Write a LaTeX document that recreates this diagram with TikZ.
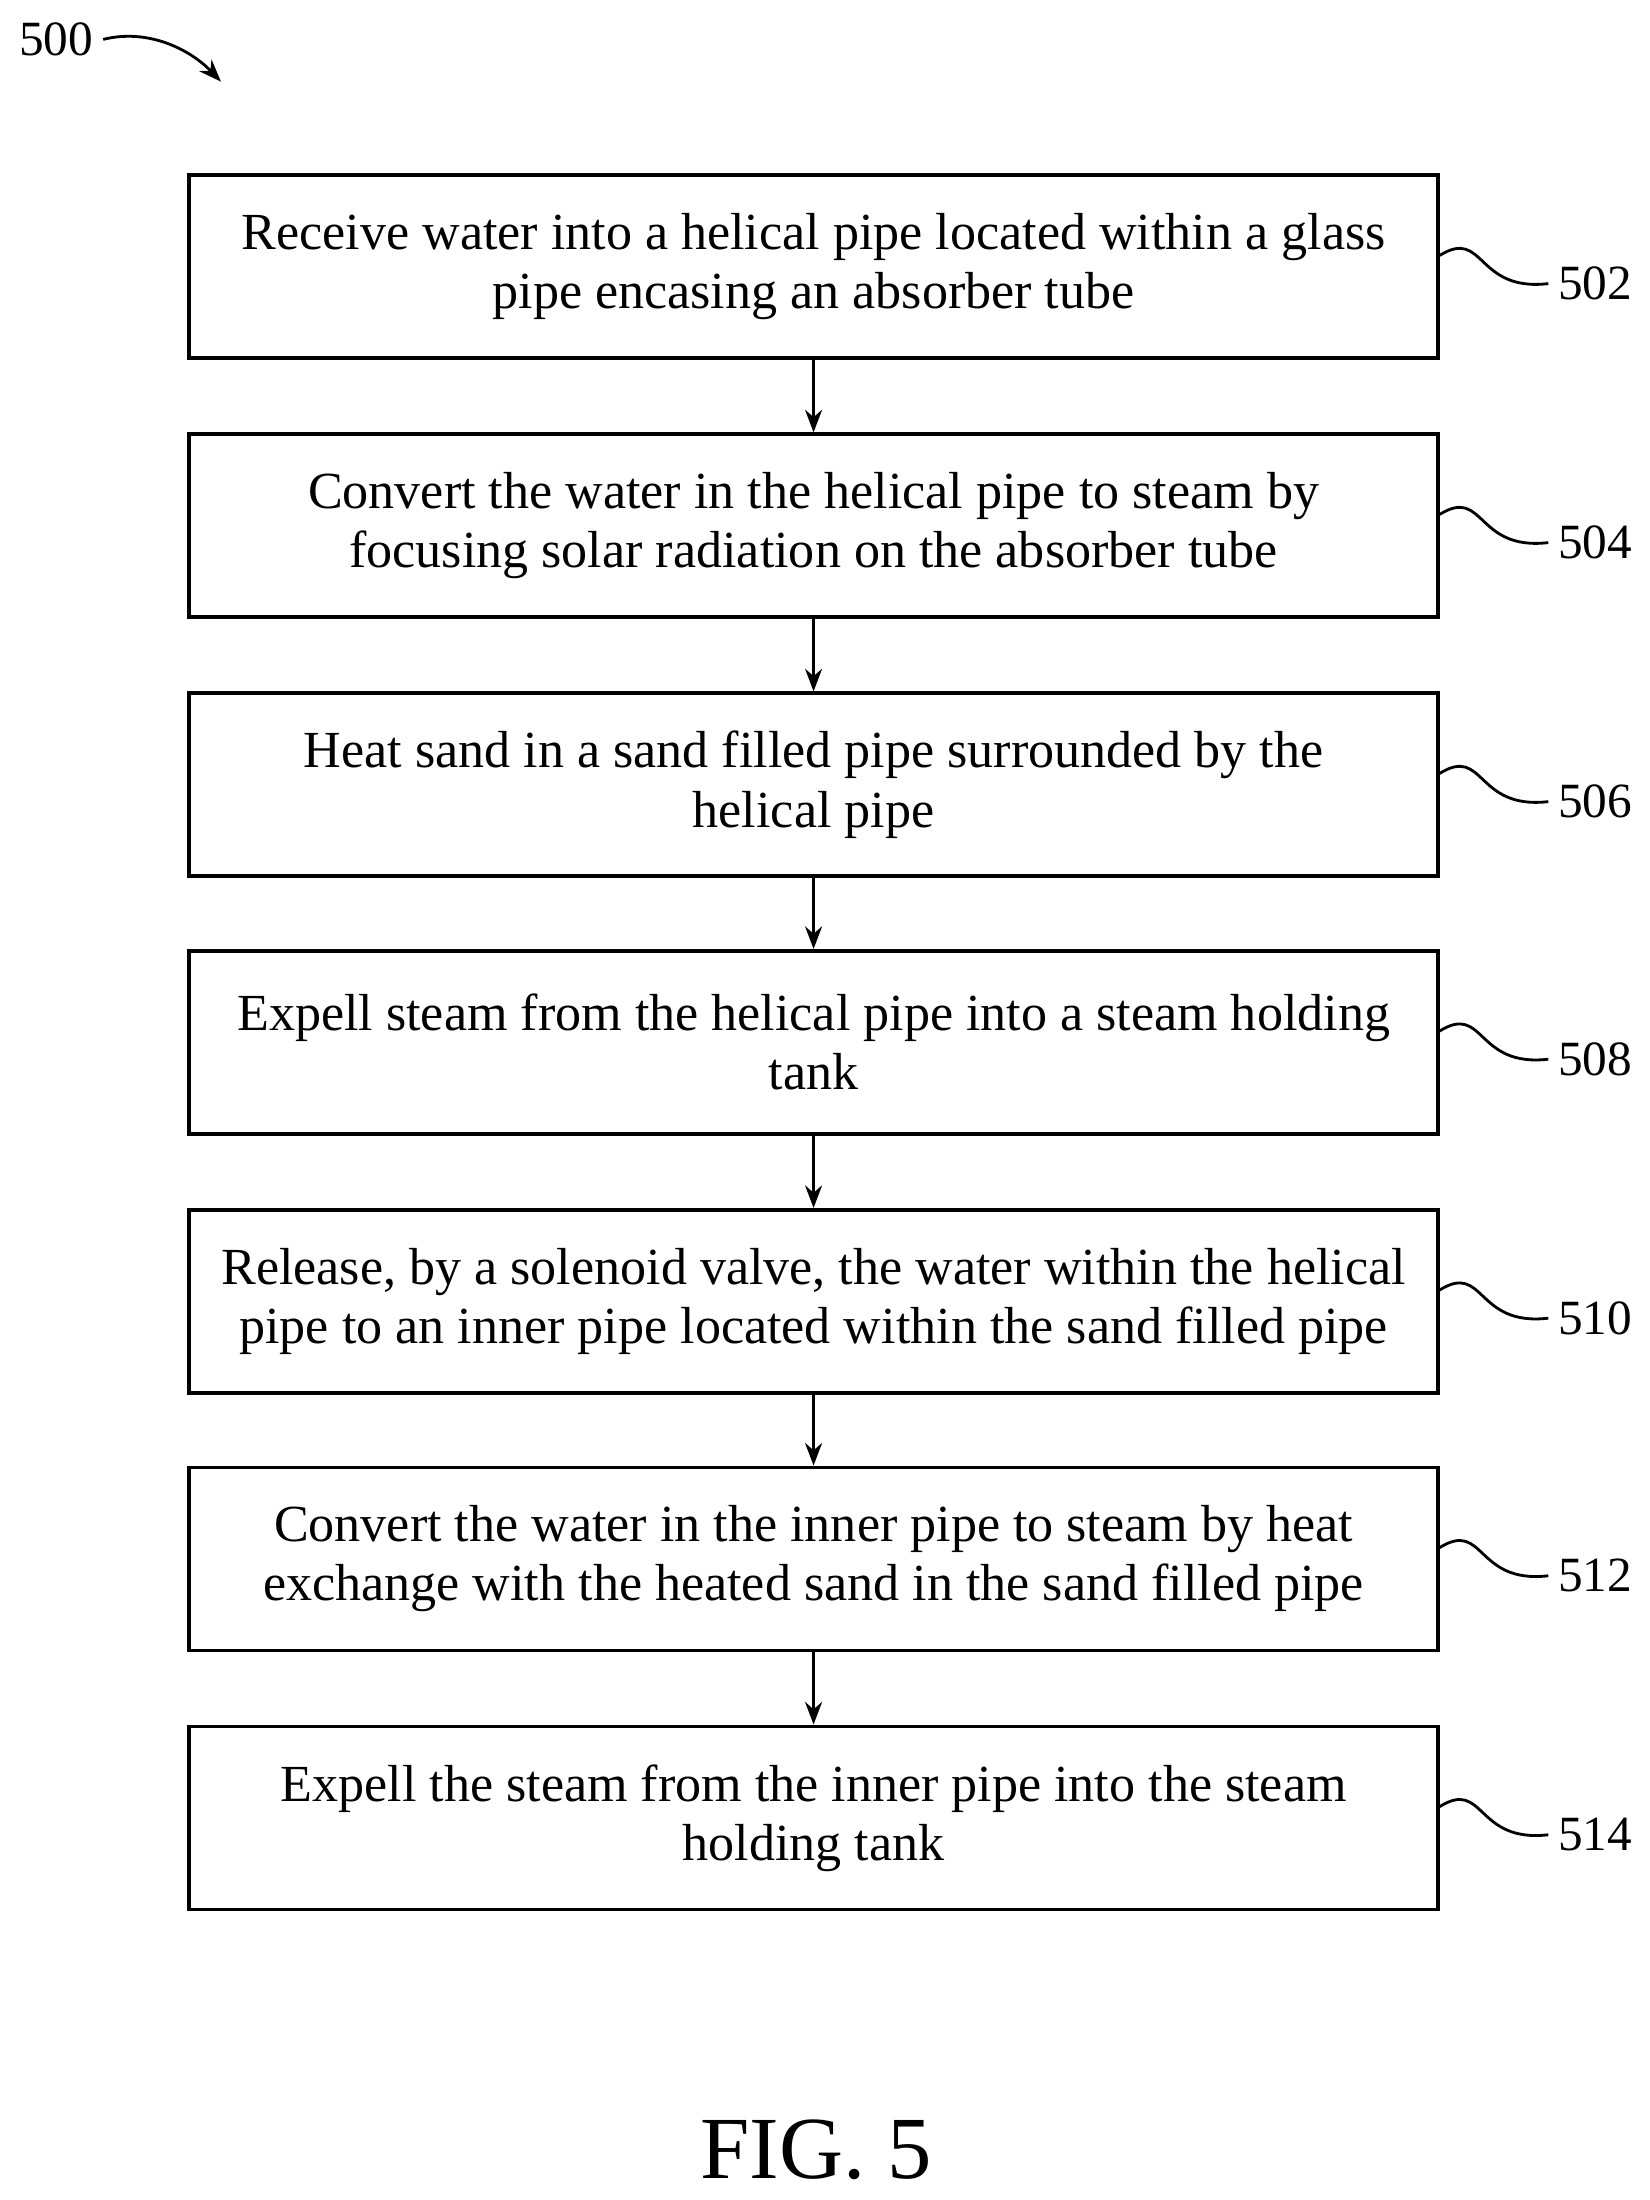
\documentclass[tikz,border=0pt]{standalone}
\usepackage{fontspec}
\setmainfont{Liberation Serif}
\usetikzlibrary{arrows.meta}
\begin{document}
\begin{tikzpicture}[x=0.5pt,y=-0.5pt,
 box/.style={draw,line width=1.3pt,minimum width=443.5pt,minimum height=65pt,align=center,font=\fontsize{18.5}{21}\selectfont,inner sep=0pt},
 lab/.style={font=\fontsize{17.5}{20}\selectfont,anchor=west},
 arr/.style={-{Stealth[length=8pt,width=6pt]},line width=1.2pt},
 sq/.style={line width=1pt}]
\useasboundingbox (0,0) rectangle (1172,1563);
\foreach \n/\y/\t in {502/189.5/{Receive water into a helical pipe located within a glass\\pipe encasing an absorber tube},
 504/373.5/{Convert the water in the helical pipe to steam by\\focusing solar radiation on the absorber tube},
 506/557.5/{Heat sand in a sand filled pipe surrounded by the\\helical pipe},
 508/740.5/{Expell steam from the helical pipe into a steam holding\\tank},
 510/924.5/{Release, by a solenoid valve, the water within the helical\\pipe to an inner pipe located within the sand filled pipe},
 512/1107.5/{Convert the water in the inner pipe to steam by heat\\exchange with the heated sand in the sand filled pipe},
 514/1291.5/{Expell the steam from the inner pipe into the steam\\holding tank}}{
 \node[box] (b\n) at (578,\y) {\t};
 \node[lab] (l\n) at (1100,\y+12) {\n};
 \draw[sq] (b\n.east|-0,\y-8) .. controls (1055,\y-28) and (1048,\y+18) .. (l\n.west);
}
\foreach \a/\b in {502/504,504/506,506/508,508/510,510/512,512/514}
 \draw[arr] (b\a) -- (b\b);
\node[font=\fontsize{17.5}{20}\selectfont] (n500) at (40,28) {500};
\coordinate (e500) at (157,58);
\draw[-{Stealth[length=8pt,width=6pt]},line width=1pt] (n500.east) .. controls (105,20) and (135,35) .. (e500);
\node[font=\fontsize{31.5}{34}\selectfont] (fig) at (580,1527) {FIG. 5};
\end{tikzpicture}
\end{document}
